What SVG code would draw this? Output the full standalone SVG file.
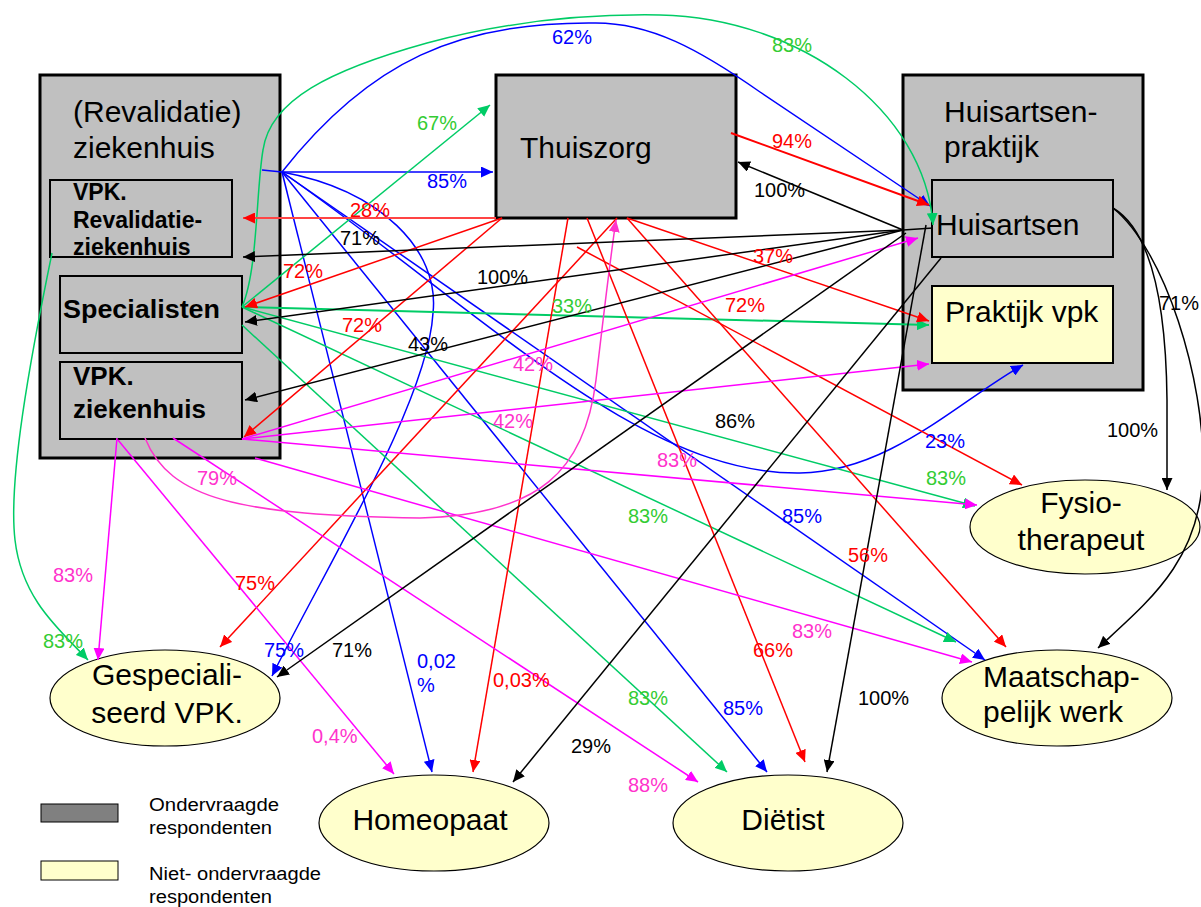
<svg xmlns="http://www.w3.org/2000/svg" width="1201" height="907" viewBox="0 0 1201 907">
<style>
.box{fill:#C0C0C0;stroke:#000;stroke-width:3}
.sub{fill:#C0C0C0;stroke:#000;stroke-width:2}
.yel{fill:#FFFFCC;stroke:#000;stroke-width:2}
.ell{fill:#FFFFCC;stroke:#000;stroke-width:1.2}
.t{font-family:"Liberation Sans",Arial,sans-serif;font-size:30px;fill:#000}
.tb{font-family:"Liberation Sans",Arial,sans-serif;font-weight:bold;fill:#000}
.lg{font-family:"Liberation Sans",Arial,sans-serif;font-size:18px;fill:#000}
.l{font-family:"Liberation Sans",Arial,sans-serif;font-size:20px}
.cr{fill:#FF0000}.cb{fill:#0000FF}.cg{fill:#33CC33}.cp{fill:#FF33CC}.ck{fill:#000}
#connectors path{fill:none;stroke-width:1.5}
.r{stroke:#FF0000}.b{stroke:#0000FF}.g{stroke:#00CC66}.m{stroke:#FF00FF}.p{stroke:#FF33CC}.k{stroke:#000}
.ar{marker-end:url(#mr)}.ab{marker-end:url(#mb)}.ag{marker-end:url(#mg)}.am{marker-end:url(#mm)}.ap{marker-end:url(#mp)}.ak{marker-end:url(#mk)}
</style>
<defs>
<marker id="mr" viewBox="0 0 12 11" refX="12" refY="5.5" markerWidth="12" markerHeight="11" markerUnits="userSpaceOnUse" orient="auto"><path d="M0,0 L12,5.5 L0,11 z" fill="#FF0000"/></marker>
<marker id="mb" viewBox="0 0 12 11" refX="12" refY="5.5" markerWidth="12" markerHeight="11" markerUnits="userSpaceOnUse" orient="auto"><path d="M0,0 L12,5.5 L0,11 z" fill="#0000FF"/></marker>
<marker id="mg" viewBox="0 0 12 11" refX="12" refY="5.5" markerWidth="12" markerHeight="11" markerUnits="userSpaceOnUse" orient="auto"><path d="M0,0 L12,5.5 L0,11 z" fill="#00CC66"/></marker>
<marker id="mm" viewBox="0 0 12 11" refX="12" refY="5.5" markerWidth="12" markerHeight="11" markerUnits="userSpaceOnUse" orient="auto"><path d="M0,0 L12,5.5 L0,11 z" fill="#FF00FF"/></marker>
<marker id="mp" viewBox="0 0 12 11" refX="12" refY="5.5" markerWidth="12" markerHeight="11" markerUnits="userSpaceOnUse" orient="auto"><path d="M0,0 L12,5.5 L0,11 z" fill="#FF33CC"/></marker>
<marker id="mk" viewBox="0 0 12 11" refX="12" refY="5.5" markerWidth="12" markerHeight="11" markerUnits="userSpaceOnUse" orient="auto"><path d="M0,0 L12,5.5 L0,11 z" fill="#000"/></marker>
</defs>
<rect width="1201" height="907" fill="#fff"/>

<g id="ziekenhuis">
<rect class="box" x="40" y="75" width="240" height="383"/>
<text class="t" x="73" y="122">(Revalidatie)</text>
<text class="t" x="73" y="158">ziekenhuis</text>
</g>
<g id="vpk-revalidatie">
<rect class="sub" x="50" y="180" width="182" height="77"/>
<text class="tb" font-size="23" x="73" y="200">VPK.</text>
<text class="tb" font-size="23" x="73" y="228">Revalidatie-</text>
<text class="tb" font-size="23" x="73" y="255">ziekenhuis</text>
</g>
<g id="specialisten">
<rect class="sub" x="60" y="276" width="182" height="77"/>
<text class="tb" font-size="26" x="63" y="318" textLength="157" lengthAdjust="spacingAndGlyphs">Specialisten</text>
</g>
<g id="vpk-ziekenhuis">
<rect class="sub" x="60" y="362" width="182" height="77"/>
<text class="tb" font-size="26" x="73" y="385">VPK.</text>
<text class="tb" font-size="26" x="73" y="418">ziekenhuis</text>
</g>
<g id="thuiszorg">
<rect class="box" x="496" y="75" width="240" height="143"/>
<text class="t" x="520" y="158">Thuiszorg</text>
</g>
<g id="huisartsenpraktijk">
<rect class="box" x="903" y="75" width="240" height="315"/>
<text class="t" x="944" y="122">Huisartsen-</text>
<text class="t" x="944" y="157">praktijk</text>
</g>
<g id="huisartsen">
<rect class="sub" x="932" y="180" width="181" height="77"/>
<text class="t" x="936" y="235">Huisartsen</text>
</g>
<g id="praktijkvpk">
<rect class="yel" x="932" y="286" width="181" height="77"/>
<text class="t" x="945" y="322">Praktijk vpk</text>
</g>
<g id="fysiotherapeut">
<ellipse class="ell" cx="1085" cy="527" rx="115" ry="47"/>
<text class="t" x="1081" y="513" text-anchor="middle">Fysio-</text>
<text class="t" x="1081" y="550" text-anchor="middle">therapeut</text>
</g>
<g id="maatschappelijkwerk">
<ellipse class="ell" cx="1057" cy="698" rx="115" ry="48"/>
<text class="t" x="983" y="687">Maatschap-</text>
<text class="t" x="983" y="722">pelijk werk</text>
</g>
<g id="gespecialiseerdvpk">
<ellipse class="ell" cx="165" cy="698" rx="115" ry="48"/>
<text class="t" x="167" y="685" text-anchor="middle">Gespeciali-</text>
<text class="t" x="167" y="723" text-anchor="middle">seerd VPK.</text>
</g>
<g id="homeopaat">
<ellipse class="ell" cx="434" cy="823" rx="115" ry="48"/>
<text class="t" x="430" y="830" text-anchor="middle">Homeopaat</text>
</g>
<g id="dietist">
<ellipse class="ell" cx="788" cy="823" rx="115" ry="48"/>
<text class="t" x="783" y="830" text-anchor="middle">Diëtist</text>
</g>

<g id="legend">
<rect x="41" y="804" width="77" height="18" fill="#808080" stroke="#000" stroke-width="1"/>
<rect x="41" y="861" width="77" height="19" fill="#FFFFCC" stroke="#000" stroke-width="1"/>
<text class="lg" x="149" y="811" textLength="130" lengthAdjust="spacingAndGlyphs">Ondervraagde</text>
<text class="lg" x="149" y="834" textLength="123" lengthAdjust="spacingAndGlyphs">respondenten</text>
<text class="lg" x="149" y="880" textLength="172" lengthAdjust="spacingAndGlyphs">Niet- ondervraagde</text>
<text class="lg" x="149" y="903" textLength="123" lengthAdjust="spacingAndGlyphs">respondenten</text>
</g>

<g id="connectors">
<path class="b" d="M262,170 L282,172"/>
<path class="b ab" d="M282,172 L493,172"/>
<path class="b ab" d="M282,172 C 370,60 460,22 593,23 C 650,22 700,50 760,92 L930,206"/>
<path class="b ab" d="M282,172 C 380,190 440,250 433,313 C 428,400 330,560 272,676"/>
<path class="b ab" d="M282,172 C 480,310 640,475 800,473 C 890,472 960,400 1023,365"/>
<path class="b ab" d="M282,172 L985,660"/>
<path class="b ab" d="M282,172 L767,772"/>
<path class="b ab" d="M282,172 L432,772"/>
<path class="g ag" d="M242,307 L490,105"/>
<path class="g ag" d="M242,307 C 258,270 256,190 263,150 C 270,100 330,70 427,43 C 520,18 600,14 660,15 C 800,18 925,110 933,225"/>
<path class="g ag" d="M242,307 L929,325" style="stroke-width:2"/>
<path class="g ag" d="M242,307 L975,506"/>
<path class="g ag" d="M242,307 L956,642"/>
<path class="g ag" d="M242,325 L727,772"/>
<path class="g ag" d="M52,253 C 30,360 8,480 15,540 C 22,600 60,630 88,660"/>
<path class="r ar" d="M496,218 L243,218" style="stroke:#FF4444;stroke-width:2"/>
<path class="r ar" d="M502,218 L245,307"/>
<path class="r ar" d="M502,218 L244,437"/>
<path class="r ar" d="M617,218 L220,647"/>
<path class="r ar" d="M568,218 L473,772"/>
<path class="r ar" d="M587,218 L805,762"/>
<path class="r ar" d="M627,218 L1006,647"/>
<path class="r ar" d="M627,218 L929,321"/>
<path class="r ar" d="M577,247 L1022,485"/>
<path class="r ar" d="M731,133 L929,205" style="stroke-width:2"/>
<path class="m am" d="M242,439 L918,238"/>
<path class="m am" d="M242,439 L929,364"/>
<path class="m am" d="M242,439 L977,505"/>
<path class="m am" d="M255,458 L972,662"/>
<path class="m am" d="M173,438 L698,782"/>
<path class="m am" d="M117,438 L98,660"/>
<path class="m am" d="M118,440 L394,774"/>
<path class="p ap" d="M145,438 C 170,500 240,515 420,518 C 540,515 585,470 596,380 C 603,320 610,260 616,220"/>
<path class="k" d="M903,230 L933,228"/>
<path class="k ak" d="M903,230 L738,162"/>
<path class="k ak" d="M903,230 L243,257"/>
<path class="k ak" d="M903,230 L245,322"/>
<path class="k ak" d="M903,230 L245,400"/>
<path class="k ak" d="M906,233 L277,677"/>
<path class="k ak" d="M941,258 L513,782"/>
<path class="k ak" d="M926,225 L827,772"/>
<path class="k ak" d="M1113,208 C 1150,230 1166,300 1167,400 L1167,490"/>
<path class="k ak" d="M1113,208 C 1165,250 1205,380 1203,470 C 1201,560 1150,600 1098,648"/>
</g>

<g id="labels">
<text class="l cb" x="552" y="44">62%</text>
<text class="l cg" x="772" y="52">83%</text>
<text class="l cg" x="417" y="130">67%</text>
<text class="l cb" x="427" y="188">85%</text>
<text class="l cr" x="772" y="148">94%</text>
<text class="l ck" x="754" y="197">100%</text>
<text class="l cr" x="350" y="217">28%</text>
<text class="l ck" x="340" y="245">71%</text>
<text class="l cr" x="753" y="263">37%</text>
<text class="l cr" x="283" y="278">72%</text>
<text class="l ck" x="477" y="284">100%</text>
<text class="l cg" x="552" y="313">33%</text>
<text class="l cr" x="725" y="312">72%</text>
<text class="l cr" x="342" y="332">72%</text>
<text class="l ck" x="408" y="351">43%</text>
<text class="l cp" x="513" y="371">42%</text>
<text class="l cp" x="493" y="428">42%</text>
<text class="l ck" x="715" y="428">86%</text>
<text class="l cb" x="925" y="448">23%</text>
<text class="l cp" x="657" y="467">83%</text>
<text class="l cg" x="926" y="485">83%</text>
<text class="l cp" x="197" y="485">79%</text>
<text class="l cb" x="782" y="523">85%</text>
<text class="l cg" x="628" y="523">83%</text>
<text class="l cr" x="848" y="562">56%</text>
<text class="l cp" x="53" y="582">83%</text>
<text class="l cr" x="235" y="590">75%</text>
<text class="l cp" x="792" y="638">83%</text>
<text class="l cg" x="43" y="648">83%</text>
<text class="l cr" x="753" y="657">66%</text>
<text class="l cb" x="264" y="657">75%</text>
<text class="l ck" x="332" y="657">71%</text>
<text class="l cb" x="417" y="668">0,02</text>
<text class="l cb" x="417" y="692">%</text>
<text class="l cr" x="493" y="687">0,03%</text>
<text class="l cg" x="628" y="705">83%</text>
<text class="l cb" x="723" y="715">85%</text>
<text class="l ck" x="858" y="705">100%</text>
<text class="l cp" x="312" y="743">0,4%</text>
<text class="l ck" x="571" y="753">29%</text>
<text class="l cp" x="628" y="792">88%</text>
<text class="l ck" x="1107" y="437">100%</text>
<text class="l ck" x="1159" y="310">71%</text>
</g>
</svg>
